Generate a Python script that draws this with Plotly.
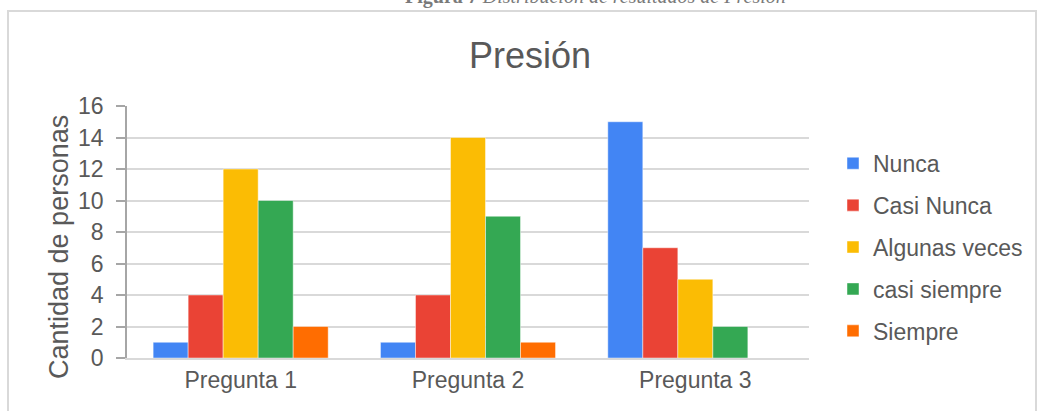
import plotly.graph_objects as go

categories = ["Pregunta 1", "Pregunta 2", "Pregunta 3"]
series_names = ["Nunca", "Casi Nunca", "Algunas veces", "casi siempre", "Siempre"]
nunca = [1, 1, 15]
casi_nunca = [4, 4, 7]
algunas_veces = [12, 14, 5]
casi_siempre = [10, 9, 2]
siempre = [2, 1, 0]
y_ticks = [0, 2, 4, 6, 8, 10, 12, 14, 16]

series_values = [nunca, casi_nunca, algunas_veces, casi_siempre, siempre]
colors = ["#4285F4", "#EA4335", "#FBBC04", "#34A853", "#FF6D01"]

FONT = "Liberation Sans, Arial, sans-serif"
TXT = "#595959"

fig = go.Figure()
for name, vals, col in zip(series_names, series_values, colors):
    fig.add_trace(go.Bar(
        x=categories, y=vals, name=name, legendgroup=name,
        marker=dict(color=col, line=dict(color="rgba(255,255,255,0.45)", width=1)),
    ))

W, H = 1038, 411
L, R, T, B = 127, 229, 106, 53
PW, PH = W - L - R, H - T - B

fig.update_layout(
    width=W, height=H,
    margin=dict(l=L, r=R, t=T, b=B, autoexpand=False),
    paper_bgcolor="white", plot_bgcolor="white",
    barmode="group", bargap=0.23, bargroupgap=0,
    font=dict(family=FONT, size=24, color=TXT),
    showlegend=True,
    legend=dict(
        x=(833 - L) / PW, xanchor="left", y=0.858, yanchor="top",
        font=dict(family=FONT, size=23, color=TXT),
        tracegroupgap=9, bgcolor="rgba(0,0,0,0)",
        itemclick=False,
    ),
    xaxis=dict(
        showgrid=False, showline=True, linecolor="#d9d9d9", linewidth=2,
        ticks="", tickfont=dict(size=23, color=TXT), fixedrange=True,
    ),
    yaxis=dict(
        range=[0, 16], tickvals=y_ticks, showgrid=True, gridcolor="#d9d9d9", gridwidth=1.5,
        showline=True, linecolor="#a6a6a6", linewidth=1.5,
        ticks="outside", ticklen=9, tickcolor="#a6a6a6", tickwidth=1.5,
        ticklabelstandoff=8, zeroline=False,
        tickfont=dict(size=23, color=TXT), fixedrange=True,
    ),
    shapes=[
        dict(type="rect", xref="paper", yref="paper",
             x0=(8 - L) / PW, x1=(1036 - L) / PW,
             y0=-60 / PH, y1=(H - 11 - B) / PH,
             line=dict(color="#d9d9d9", width=2), fillcolor="rgba(0,0,0,0)", layer="below"),
    ],
    annotations=[
        dict(text="Presión", xref="paper", yref="paper",
             x=(530 - L) / PW, y=(H - 55 - B) / PH,
             xanchor="center", yanchor="middle", showarrow=False,
             font=dict(family=FONT, size=36, color=TXT)),
        dict(text="Cantidad de personas", xref="paper", yref="paper",
             x=(59 - L) / PW, y=(H - 247 - B) / PH,
             xanchor="center", yanchor="middle", textangle=-90, showarrow=False,
             font=dict(family=FONT, size=27, color=TXT)),
        dict(text="<b>Figura 7</b> <i>Distribución de resultados de Presión</i>",
             xref="paper", yref="paper",
             x=(595 - L) / PW, y=(H - 10 - B) / PH,
             xanchor="center", yanchor="bottom", showarrow=False,
             font=dict(family="Liberation Serif, Times New Roman, serif", size=20, color="#7a7a7a")),
    ],
)

fig.write_html("out.html", config={"displayModeBar": False})
